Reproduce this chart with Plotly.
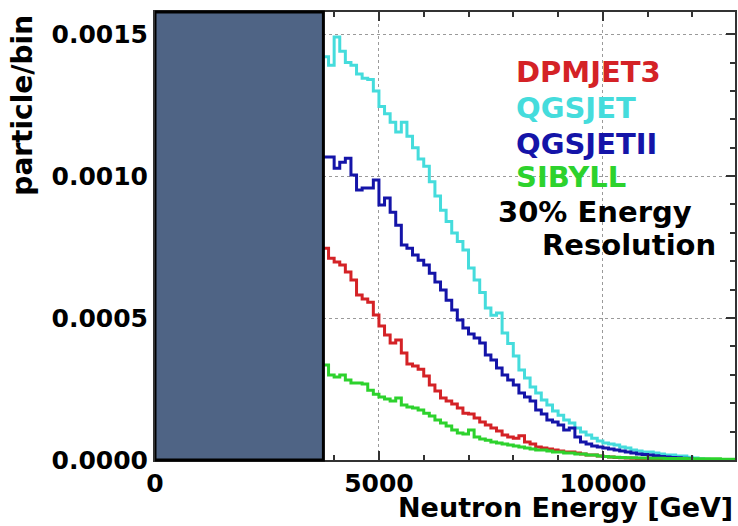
import numpy as np
import plotly.graph_objects as go

# ---- data (values in units of 1e-3 particle/bin), bins of 125 GeV starting at 3750 GeV
BIN_START = 3750
BIN_WIDTH = 125
SCALE = 1e-3
MASK_END = 3760  # energy region hidden by the opaque box

qgsjet = [1.42, 1.39, 1.49, 1.44, 1.40, 1.39, 1.36, 1.345, 1.34, 1.30,
          1.245, 1.22, 1.19, 1.155, 1.19, 1.14, 1.10, 1.06, 1.035, 0.98,
          0.93, 0.88, 0.84, 0.80, 0.77, 0.74, 0.676, 0.634, 0.59, 0.535,
          0.51, 0.518, 0.447, 0.41, 0.366, 0.317, 0.289, 0.257, 0.236, 0.211,
          0.194, 0.173, 0.158, 0.141, 0.130, 0.113, 0.099, 0.088, 0.077, 0.067,
          0.060, 0.056, 0.053, 0.046, 0.042, 0.035, 0.032, 0.028, 0.028, 0.025,
          0.021, 0.018, 0.018, 0.014, 0.014, 0.010, 0.007, 0.004, 0.003, 0.002,
          0.001, 0.001, 0.0, 0.0]

qgsjetii = [1.067, 1.067, 1.028, 1.049, 1.063, 1.004, 0.951, 0.958, 0.958, 0.986,
            0.898, 0.923, 0.873, 0.827, 0.757, 0.746, 0.722, 0.704, 0.687, 0.658,
            0.627, 0.599, 0.563, 0.528, 0.493, 0.465, 0.444, 0.430, 0.412, 0.370,
            0.352, 0.324, 0.299, 0.282, 0.264, 0.236, 0.222, 0.208, 0.176, 0.162,
            0.141, 0.134, 0.123, 0.106, 0.113, 0.081, 0.063, 0.056, 0.049, 0.046,
            0.042, 0.039, 0.035, 0.032, 0.028, 0.025, 0.021, 0.019, 0.018, 0.015,
            0.012, 0.011, 0.009, 0.008, 0.006, 0.004, 0.002, 0.001, 0.001, 0.0,
            0.0, 0.0, 0.0, 0.0]

dpmjet3 = [0.746, 0.711, 0.697, 0.687, 0.662, 0.634, 0.581, 0.567, 0.556, 0.511,
           0.472, 0.440, 0.412, 0.423, 0.377, 0.338, 0.331, 0.320, 0.296, 0.264,
           0.243, 0.218, 0.208, 0.197, 0.183, 0.165, 0.162, 0.148, 0.134, 0.123,
           0.113, 0.102, 0.088, 0.081, 0.077, 0.085, 0.063, 0.056, 0.046, 0.042,
           0.039, 0.035, 0.032, 0.028, 0.028, 0.025, 0.021, 0.018, 0.018, 0.014,
           0.012, 0.011, 0.009, 0.008, 0.007, 0.006, 0.005, 0.004, 0.003, 0.003,
           0.002, 0.002, 0.001, 0.001, 0.001, 0.0, 0.0, 0.0, 0.0, 0.0,
           0.0, 0.0, 0.0, 0.0]

sibyll = [0.335, 0.299, 0.292, 0.299, 0.282, 0.271, 0.271, 0.268, 0.246, 0.232,
          0.222, 0.215, 0.208, 0.218, 0.194, 0.187, 0.183, 0.176, 0.165, 0.155,
          0.141, 0.130, 0.120, 0.106, 0.095, 0.092, 0.106, 0.081, 0.074, 0.070,
          0.063, 0.060, 0.056, 0.053, 0.049, 0.046, 0.042, 0.039, 0.035, 0.035,
          0.032, 0.028, 0.028, 0.025, 0.025, 0.021, 0.021, 0.018, 0.018, 0.014,
          0.012, 0.011, 0.010, 0.009, 0.008, 0.008, 0.007, 0.007, 0.006, 0.006,
          0.006, 0.005, 0.005, 0.005, 0.005, 0.004, 0.004, 0.004, 0.004, 0.004,
          0.004, 0.003, 0.003, 0.003]

series_names = ["QGSJET", "QGSJETII", "DPMJET3", "SIBYLL"]
series_values = [qgsjet, qgsjetii, dpmjet3, sibyll]

# ---- styles
colors = {"DPMJET3": "#d42226", "QGSJET": "#45dcdc", "QGSJETII": "#1414a8", "SIBYLL": "#2dd22d"}
FONT = "DejaVu Sans"

fig = go.Figure()
for name, vals in zip(series_names, series_values):
    v = np.array(vals) * SCALE
    edges = BIN_START + BIN_WIDTH * np.arange(len(v) + 1)
    ys = np.append(v, v[-1])
    fig.add_trace(go.Scatter(x=edges, y=ys, mode="lines", line_shape="hv",
                             line=dict(color=colors[name], width=3),
                             name=name, showlegend=False, hoverinfo="skip"))

# opaque box covering the low-energy region
fig.add_shape(type="rect", xref="x", yref="paper", x0=0, x1=MASK_END, y0=0, y1=1,
              fillcolor="#4f6485", line=dict(color="black", width=3), layer="above")

axis_common = dict(
    showline=True, linecolor="#333333", linewidth=2, mirror="ticks",
    ticks="inside", ticklen=9, tickwidth=1.5, tickcolor="#333333",
    showgrid=True, gridcolor="#9a9a9a", griddash="dot", gridwidth=1,
    zeroline=False,
    tickfont=dict(family=FONT, size=25, color="black", weight="bold"),
)

fig.update_xaxes(range=[0, 12950], tick0=0, dtick=5000, tickformat="d",
                 minor=dict(dtick=1000, ticks="inside", ticklen=5, tickcolor="#333333", showgrid=False),
                 **axis_common)
fig.update_yaxes(range=[0, 0.001578], tick0=0, dtick=0.0005, tickformat=".4f",
                 minor=dict(dtick=0.0001, ticks="inside", ticklen=5, tickcolor="#333333", showgrid=False),
                 **axis_common)

ann = []
legend_items = [("DPMJET3", 0.866), ("QGSJET", 0.786), ("QGSJETII", 0.705), ("SIBYLL", 0.632)]
for name, yp in legend_items:
    ann.append(dict(text=name, xref="paper", yref="paper", x=0.6186, y=yp,
                    xanchor="left", yanchor="middle", showarrow=False,
                    font=dict(family=FONT, size=29, color=colors[name], weight="bold")))
ann.append(dict(text="30% Energy", xref="paper", yref="paper", x=0.5876, y=0.554,
                xanchor="left", yanchor="middle", showarrow=False,
                font=dict(family=FONT, size=29, color="black", weight="bold")))
ann.append(dict(text="Resolution", xref="paper", yref="paper", x=0.971, y=0.48,
                xanchor="right", yanchor="middle", showarrow=False,
                font=dict(family=FONT, size=29, color="black", weight="bold")))
ann.append(dict(text="Neutron Energy [GeV]", xref="paper", yref="paper", x=1.0, y=-0.107,
                xanchor="right", yanchor="middle", showarrow=False,
                font=dict(family=FONT, size=27, color="black", weight="bold")))
ann.append(dict(text="particle/bin", xref="paper", yref="paper", x=-0.2285, y=0.792,
                xanchor="center", yanchor="middle", textangle=-90, showarrow=False,
                font=dict(family=FONT, size=28, color="black", weight="bold")))

fig.update_layout(
    width=738, height=526,
    margin=dict(l=155, r=1, t=12, b=66),
    paper_bgcolor="white", plot_bgcolor="white",
    annotations=ann, showlegend=False,
)

fig.write_html("out.html")
